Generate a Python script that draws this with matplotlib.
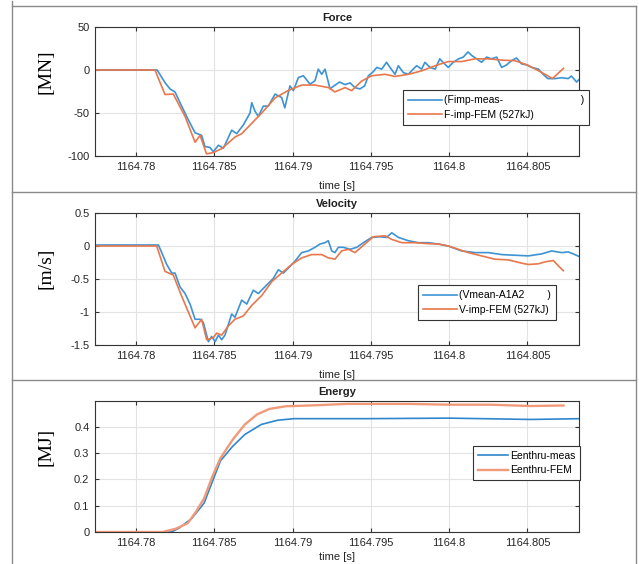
import matplotlib
matplotlib.use('Agg')
import matplotlib.pyplot as plt
import numpy as np
from matplotlib.lines import Line2D

plt.rcParams['font.family'] = ['Liberation Sans', 'DejaVu Sans']

T0 = 1164.78   # offsets below are in ms after T0

# Force [MN]
f_meas_t = [-2.7, 1.35, 1.85, 2.17, 2.49, 2.81, 3.34, 3.77, 4.19, 4.4, 4.72, 4.94, 5.26, 5.58,
            6.11, 6.43, 6.85, 7.28, 7.39, 7.6, 7.81, 8.13, 8.45, 8.88, 9.3, 9.5, 9.83, 10.05,
            10.37, 10.69, 11.11, 11.43, 11.64, 11.86, 12.07, 12.39, 12.6, 13.0, 13.35, 13.67,
            13.98, 14.3, 14.6, 14.83, 15.15, 15.37, 15.69, 16.0, 16.22, 16.54, 16.75, 17.07,
            17.39, 17.7, 17.92, 18.24, 18.45, 18.77, 19.1, 19.4, 19.6, 19.94, 20.26, 20.6,
            20.9, 21.2, 21.43, 21.75, 22.07, 22.39, 22.7, 23.03, 23.35, 23.67, 23.99, 24.3,
            24.63, 24.95, 25.27, 25.7, 26.0, 26.3, 26.75, 27.2, 27.6, 27.8, 28.14, 28.4]
f_meas = [0, 0, -14.7, -22, -25.6, -38, -58, -73, -76, -89, -90, -95, -87.5, -91,
          -70, -74, -64, -50, -38, -48, -54, -42, -42, -28, -32, -44, -18.5, -24,
          -8.7, -6.7, -16.5, -12.4, 1, -5, 1, -22, -19, -14, -17, -15,
          -20.5, -22, -18.5, -7, -2, 3, 1, 9, 3, -5, 5, -3,
          -5, 1, 5, 1, 9, 3, 1, 13, 9, 3, 9, 13,
          15, 21, 17, 13, 9, 15, 13, 15, 3, 6, 11, 14,
          7, 6, 3, 1, -5, -10, -10, -9, -10, -7, -14, -9]
f_fem_t = [-2.7, 1.21, 1.85, 2.38, 3.13, 3.77, 4.09, 4.5, 4.94, 5.47, 6.32, 6.75, 7.39, 8.03,
           8.88, 9.7, 10.58, 11.43, 12.3, 12.7, 13.35, 13.77, 14.4, 15.05, 15.9, 16.54, 17.39,
           18.24, 19.1, 19.94, 20.8, 21.65, 22.5, 23.35, 24.2, 25.0, 25.9, 26.6, 27.3]
f_fem = [0, 0, -28.5, -28, -54, -84, -76, -97.5, -96, -91.5, -78, -74, -62, -50,
         -32.5, -24, -17.5, -17.5, -20.5, -25.5, -20.5, -24, -13, -6.7, -5, -7.5, -5,
         -1, 5, 9.8, 9.8, 13, 13, 11.5, 10.8, 5.8, -2.8, -9.9, 1.9]

# Velocity [m/s]
v_meas_t = [-2.7, 1.43, 1.64, 1.96, 2.28, 2.49, 2.81, 3.13, 3.45, 3.77, 4.09, 4.3, 4.62, 4.83,
            5.05, 5.26, 5.47, 5.68, 6.11, 6.32, 6.75, 7.07, 7.49, 7.81, 8.35, 8.77, 9.09, 9.41,
            9.83, 10.15, 10.58, 11.0, 11.43, 11.75, 12.07, 12.28, 12.5, 12.7, 12.92, 13.24,
            13.67, 14.1, 14.52, 15.05, 15.58, 16.0, 16.33, 16.76, 17.39, 18.03, 18.67, 19.3,
            19.94, 20.8, 21.65, 22.5, 23.35, 24.2, 25.05, 25.9, 26.54, 27.18, 27.6, 27.93, 28.4]
v_meas = [0.015, 0.015, -0.1, -0.28, -0.41, -0.41, -0.62, -0.72, -0.88, -1.11, -1.11, -1.16, -1.45, -1.37,
          -1.45, -1.35, -1.42, -1.35, -1.03, -1.08, -0.82, -0.88, -0.67, -0.72, -0.59, -0.49, -0.36, -0.41,
          -0.31, -0.23, -0.10, -0.075, -0.02, 0.03, 0.05, 0.08, -0.075, -0.10, -0.02, -0.02,
          -0.05, -0.02, 0.05, 0.13, 0.14, 0.13, 0.2, 0.13, 0.08, 0.05, 0.05, 0.03,
          0.0, -0.075, -0.10, -0.10, -0.13, -0.14, -0.15, -0.12, -0.075, -0.10, -0.09, -0.12, -0.17]
v_fem_t = [-2.7, 1.32, 1.85, 2.38, 2.81, 3.34, 3.77, 4.19, 4.51, 4.94, 5.15, 5.47, 5.9, 6.32,
           6.85, 7.39, 8.03, 8.67, 9.3, 9.94, 10.58, 11.22, 11.86, 12.28, 12.7, 13.13, 13.56,
           13.98, 14.62, 15.15, 15.9, 16.33, 16.97, 17.82, 18.67, 19.3, 19.94, 20.58, 21.22,
           22.07, 22.92, 23.77, 24.63, 25.05, 25.69, 26.12, 26.65, 26.97, 27.29]
v_fem = [0, 0, -0.385, -0.44, -0.70, -1.0, -1.24, -1.11, -1.42, -1.39, -1.32, -1.35, -1.21, -1.11,
         -1.06, -0.90, -0.75, -0.54, -0.41, -0.28, -0.18, -0.13, -0.13, -0.18, -0.20, -0.075, -0.05,
         -0.10, 0.03, 0.14, 0.155, 0.10, 0.05, 0.05, 0.035, 0.03, 0.0, -0.05, -0.10,
         -0.15, -0.20, -0.21, -0.26, -0.28, -0.27, -0.24, -0.22, -0.30, -0.375]

# Energy [MJ]
e_meas_t = [-2.7, 2.26, 2.78, 3.57, 4.35, 4.87, 5.39, 6.17, 6.95, 8.0, 9.04, 10.08, 14.77, 20.0, 25.2, 28.4]
e_meas = [0, 0, 0.016, 0.052, 0.11, 0.19, 0.27, 0.325, 0.37, 0.408, 0.424, 0.43, 0.43, 0.432, 0.427, 0.43]
e_fem_t = [-2.7, 1.7, 2.52, 3.3, 3.83, 4.35, 4.87, 5.39, 6.17, 6.95, 7.73, 8.52, 9.56, 11.1,
           13.46, 17.4, 20.0, 22.6, 25.2, 27.3]
e_fem = [0, 0, 0.012, 0.033, 0.077, 0.128, 0.21, 0.28, 0.35, 0.408, 0.446, 0.467, 0.477, 0.48,
         0.486, 0.486, 0.483, 0.483, 0.478, 0.48]

xticks = [1164.78, 1164.785, 1164.79, 1164.795, 1164.8, 1164.805]
xtick_labels = ['1164.78', '1164.785', '1164.79', '1164.795', '1164.8', '1164.805']

blue = '#3d93d3'
orange = '#e8774c'


def abs_t(ms):
    return T0 + np.array(ms) / 1000.0


fig = plt.figure(figsize=(6.39, 5.64), dpi=100)
W, H = 639.0, 564.0

panels = [
    # top px, bottom px, ylabel centre px, xlabel pad, title, ylabel, ylim, yticks
    (27, 156, 72, 7, 'Force', '[MN]', (-100, 50), [-100, -50, 0, 50]),
    (213, 345, 268, 7, 'Velocity', '[m/s]', (-1.5, 0.5), [-1.5, -1, -0.5, 0, 0.5]),
    (401, 532, 447, 3.5, 'Energy', '[MJ]', (0, 0.497), [0, 0.1, 0.2, 0.3, 0.4]),
]
axes = []
for top, bot, yl, xpad, title, ylab, ylim, yt in panels:
    ax = fig.add_axes([95 / W, 1 - bot / H, 484 / W, (bot - top) / H])
    ax.set_xlim(T0 - 0.00262, T0 + 0.02829)
    ax.set_ylim(*ylim)
    ax.set_xticks(xticks)
    ax.set_xticklabels(xtick_labels)
    ax.set_yticks(yt)
    ax.set_yticklabels([('%g' % v) for v in yt])
    ax.grid(True, color='#e3e3e3', linewidth=0.8)
    ax.set_axisbelow(True)
    ax.tick_params(direction='in', top=True, right=True, labelsize=8, length=3,
                   color='#333333', labelcolor='#262626', pad=4)
    for s in ax.spines.values():
        s.set_color('#333333')
        s.set_linewidth(0.8)
    ax.set_title(title, fontsize=8, fontweight='bold', pad=4, color='#202020')
    ax.set_xlabel('time [s]', fontsize=8, labelpad=xpad, color='#262626')
    fig.text(46 / W, 1 - yl / H, ylab, rotation=90, ha='center', va='center',
             fontsize=14, family=['Liberation Serif', 'DejaVu Serif'])
    axes.append(ax)

ax1, ax2, ax3 = axes
h1, = ax1.plot(abs_t(f_meas_t), f_meas, color=blue, lw=1.2)
h2, = ax1.plot(abs_t(f_fem_t), f_fem, color=orange, lw=1.2)
h3, = ax2.plot(abs_t(v_meas_t), v_meas, color=blue, lw=1.2)
h4, = ax2.plot(abs_t(v_fem_t), v_fem, color=orange, lw=1.2)
h5, = ax3.plot(abs_t(e_meas_t), e_meas, color='#2f86cc', lw=1.2)
h6, = ax3.plot(abs_t(e_fem_t), e_fem, color='#f09a7a', lw=1.7)

leg_kw = dict(loc='upper left', fontsize=7.5, frameon=True, fancybox=False, framealpha=1,
              edgecolor='#333333', handlelength=3.2, handletextpad=0.2, borderpad=0.5,
              labelspacing=0.45, borderaxespad=0)
l1 = ax1.legend([h1, h2], ['(Fimp-meas-' + ' ' * 27 + ')', 'F-imp-FEM (527kJ)'],
                bbox_to_anchor=(403 / W, 1 - 90 / H), bbox_transform=fig.transFigure, **leg_kw)
l2 = ax2.legend([h3, h4], ['(Vmean-A1A2' + ' ' * 8 + ')', 'V-imp-FEM (527kJ)'],
                bbox_to_anchor=(418 / W, 1 - 285 / H), bbox_transform=fig.transFigure, **leg_kw)
leg_kw3 = dict(leg_kw, handlelength=2.9, borderpad=0.45)
l3 = ax3.legend([h5, h6], ['Eenthru-meas', 'Eenthru-FEM'],
                bbox_to_anchor=(473 / W, 1 - 446 / H), bbox_transform=fig.transFigure, **leg_kw3)
for l in (l1, l2, l3):
    l.get_frame().set_linewidth(0.8)

# outer frame around the three panels
fc = '#8a8a8a'
fig.add_artist(Line2D([12 / W, 12 / W], [0, 1 - 1 / H], color=fc, lw=1.0))
fig.add_artist(Line2D([636 / W, 636 / W], [0, 1 - 6 / H], color=fc, lw=1.0))
for yy in (6, 192, 380):
    fig.add_artist(Line2D([12 / W, 636 / W], [1 - yy / H, 1 - yy / H], color=fc, lw=1.0))

fig.savefig('out.png', dpi=100)
